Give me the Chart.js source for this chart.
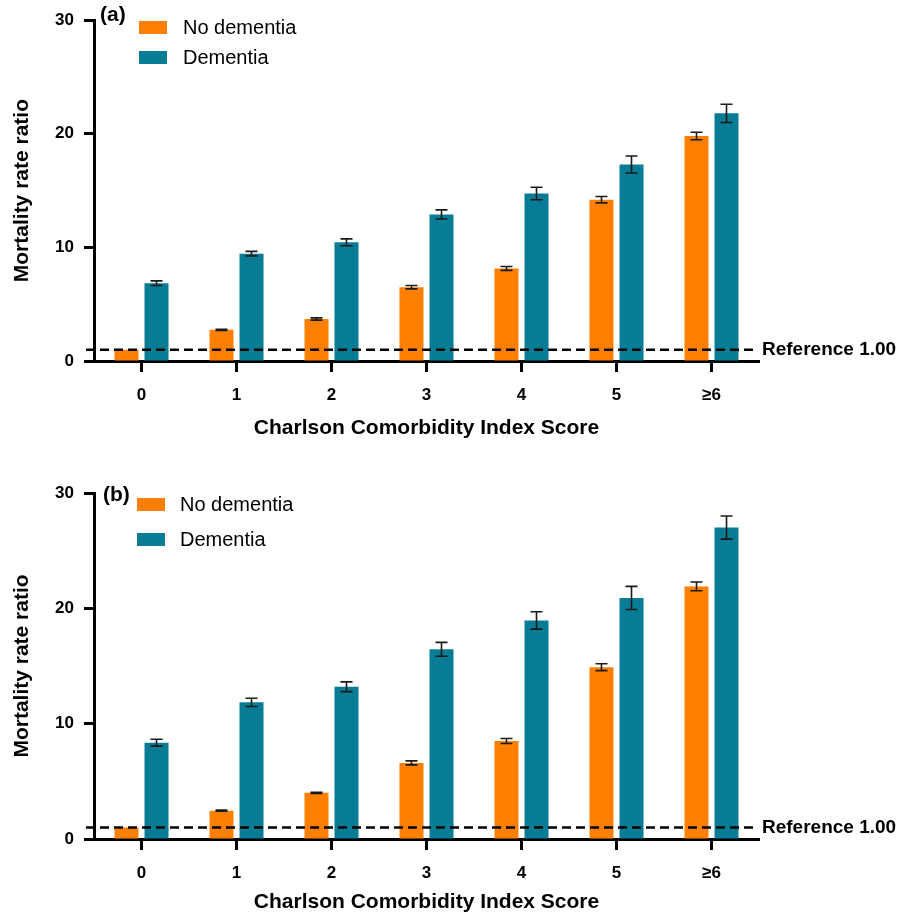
<!DOCTYPE html>
<html>
<head>
<meta charset="utf-8">
<script src="https://cdn.jsdelivr.net/npm/chart.js@4.4.1/dist/chart.umd.min.js"></script>
<style>
  body { margin: 0; background: #fff; }
  canvas { position: absolute; left: 0; }
</style>
</head>
<body>
<canvas id="chartA" width="912" height="455" style="top:0"></canvas>
<canvas id="chartB" width="912" height="455" style="top:460px"></canvas>
<script>
// values
const categories = ['0', '1', '2', '3', '4', '5', '≥6'];
const seriesNames = ['No dementia', 'Dementia'];
const yTicks = [0, 10, 20, 30];
const referenceValue = 1.0;

const noDementiaA = [1.0, 2.75, 3.7, 6.5, 8.15, 14.2, 19.8];
const noDementiaErrA = [0, 0.05, 0.1, 0.15, 0.17, 0.28, 0.33];
const dementiaA = [6.85, 9.45, 10.45, 12.9, 14.75, 17.3, 21.8];
const dementiaErrA = [0.2, 0.2, 0.3, 0.4, 0.55, 0.75, 0.8];

const noDementiaB = [1.0, 2.45, 4.0, 6.6, 8.5, 14.9, 21.9];
const noDementiaErrB = [0, 0.05, 0.05, 0.17, 0.22, 0.3, 0.38];
const dementiaB = [8.35, 11.85, 13.2, 16.45, 18.95, 20.9, 27.0];
const dementiaErrB = [0.3, 0.36, 0.42, 0.6, 0.75, 1.0, 1.0];

const FONT = '"Liberation Sans", Arial, Helvetica, sans-serif';
const ORANGE = '#FF8000';
const TEAL = '#087C94';

// error bars, reference line, panel label and legend
const extras = {
  id: 'extras',
  afterDatasetsDraw(chart, args, opts) {
    const ctx = chart.ctx;
    const y = chart.scales.y;
    const area = chart.chartArea;
    ctx.save();

    ctx.strokeStyle = '#1a1a1a';
    ctx.lineWidth = 1.6;
    chart.data.datasets.forEach((ds, i) => {
      chart.getDatasetMeta(i).data.forEach((bar, j) => {
        const e = ds.errors[j];
        if (!e) return;
        const top = y.getPixelForValue(ds.data[j] + e);
        const bot = y.getPixelForValue(ds.data[j] - e);
        ctx.beginPath();
        ctx.moveTo(bar.x, top); ctx.lineTo(bar.x, bot);
        ctx.moveTo(bar.x - 6, top); ctx.lineTo(bar.x + 6, top);
        ctx.moveTo(bar.x - 6, bot); ctx.lineTo(bar.x + 6, bot);
        ctx.stroke();
      });
    });

    const ry = y.getPixelForValue(referenceValue);
    ctx.strokeStyle = '#000';
    ctx.lineWidth = 2.5;
    ctx.setLineDash([9, 5]);
    ctx.beginPath();
    ctx.moveTo(area.left - 8, ry);
    ctx.lineTo(area.right - 4, ry);
    ctx.stroke();
    ctx.setLineDash([]);

    ctx.fillStyle = '#000';
    ctx.textBaseline = 'middle';
    ctx.textAlign = 'left';
    ctx.font = 'bold 19px ' + FONT;
    ctx.fillText('Reference 1.00', area.right + 3, ry);

    ctx.font = 'bold 21px ' + FONT;
    ctx.fillText(opts.label.text, opts.label.x, opts.label.y);

    const lg = opts.legend;
    ctx.font = '20px ' + FONT;
    chart.data.datasets.forEach((ds, i) => {
      const by = lg.boxY + i * lg.gap;
      ctx.fillStyle = ds.backgroundColor;
      ctx.fillRect(lg.boxX, by, 28, 13);
      ctx.fillStyle = '#000';
      ctx.fillText(ds.label, lg.textX, by + 7);
    });
    ctx.restore();
  }
};

function makeChart(id, noDem, noDemErr, dem, demErr, cfg) {
  const tickFont = { family: FONT, size: 17, weight: 'bold' };
  const titleFont = { family: FONT, size: 21, weight: 'bold' };
  return new Chart(document.getElementById(id), {
    type: 'bar',
    data: {
      labels: categories,
      datasets: [
        { label: seriesNames[0], data: noDem, errors: noDemErr, backgroundColor: ORANGE },
        { label: seriesNames[1], data: dem, errors: demErr, backgroundColor: TEAL }
      ]
    },
    options: {
      responsive: false,
      animation: false,
      devicePixelRatio: 1,
      barPercentage: 0.8,
      categoryPercentage: 0.632,
      layout: { padding: { top: cfg.padTop, right: 153, bottom: cfg.padBottom, left: 0 } },
      plugins: {
        legend: { display: false },
        tooltip: { enabled: false },
        extras: { label: cfg.label, legend: cfg.legend }
      },
      scales: {
        x: {
          afterFit(s) { s.height = cfg.xHeight; },
          ticks: { color: '#000', font: tickFont, padding: 13 },
          grid: { offset: false, drawOnChartArea: false, tickLength: 11, tickWidth: 3, tickColor: '#000' },
          border: { display: true, width: 3, color: '#000' },
          title: {
            display: true, text: 'Charlson Comorbidity Index Score', color: '#000',
            font: titleFont, padding: { top: 0, bottom: cfg.titlePad }
          }
        },
        y: {
          min: 0,
          max: 30,
          afterFit(s) { s.width = 94; },
          afterBuildTicks(s) { s.ticks = yTicks.map(v => ({ value: v })); },
          ticks: { color: '#000', font: tickFont, padding: 10 },
          grid: { drawOnChartArea: false, tickLength: 10, tickWidth: 3, tickColor: '#000' },
          border: { display: true, width: 3, color: '#000' },
          title: {
            display: true, text: 'Mortality rate ratio', color: '#000',
            font: titleFont, padding: { top: 10, bottom: 0 }
          }
        }
      }
    },
    plugins: [extras]
  });
}

makeChart('chartA', noDementiaA, noDementiaErrA, dementiaA, dementiaErrA, {
  padTop: 16, padBottom: 13, xHeight: 81, titlePad: 1,
  label: { text: '(a)', x: 100, y: 15 },
  legend: { boxX: 139, boxY: 21, gap: 30, textX: 183 }
});

makeChart('chartB', noDementiaB, noDementiaErrB, dementiaB, dementiaErrB, {
  padTop: 33, padBottom: 0, xHeight: 76, titlePad: 0,
  label: { text: '(b)', x: 103, y: 35 },
  legend: { boxX: 137, boxY: 38, gap: 35, textX: 180 }
});
</script>
</body>
</html>
